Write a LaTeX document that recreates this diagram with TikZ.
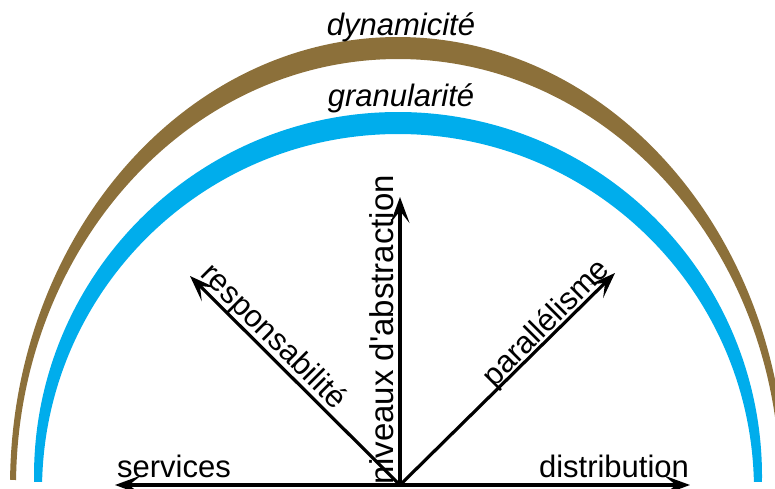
\documentclass[tikz,border=0pt]{standalone}
\usepackage{fontspec}
\setmainfont{Liberation Sans}
\usetikzlibrary{arrows.meta}
\definecolor{bandbrown}{RGB}{140,112,58}
\definecolor{bandblue}{RGB}{0,173,236}
\begin{document}
\begin{tikzpicture}[x=1pt,y=1pt,
  vec/.style={line width=3.2pt,-{Stealth[length=26pt,width=19pt,inset=12pt]}},
  lbl/.style={font=\fontsize{31}{37}\selectfont, inner sep=0pt, anchor=base},
  ilbl/.style={lbl, font=\fontsize{31}{37}\selectfont\itshape}]
\useasboundingbox (0,0) rectangle (775,488);
\clip (0,0) rectangle (775,488);
% brown band
\fill[bandbrown] ([shift={(179.2:388 and 449)}]398,2)
  arc[start angle=179.2,end angle=0.8,x radius=388,y radius=449]
  -- ([shift={(0.8:382 and 427)}]398,2)
  arc[start angle=0.8,end angle=179.2,x radius=382,y radius=427] -- cycle;
% blue band
\fill[bandblue] ([shift={(180.94:364)}]398,12)
  arc[start angle=180.94,end angle=-0.94,radius=364]
  -- ([shift={(1.29:356)}]398,-2)
  arc[start angle=1.29,end angle=178.71,radius=356] -- cycle;
% arrows
\coordinate (O) at (400,3);
\coordinate (L) at (115,3);
\coordinate (R) at (690,3);
\coordinate (U) at (400,291);
\coordinate (UL) at (190,212);
\coordinate (UR) at (615,215);
\draw[vec] (O) -- (L);
\draw[vec] (O) -- (R);
\draw[vec] (O) -- (U);
\draw[vec] (O) -- (UL);
\draw[vec] (O) -- (UR);
% labels
\node[ilbl] (dyn) at (401,452) {dynamicité};
\node[ilbl] (gran) at (401,381) {granularité};
\node[lbl] (serv) at (174,11) {services};
\node[lbl] (dist) at (614,11) {distribution};
\node[lbl,rotate=90,font=\fontsize{33}{39}\selectfont] (niv) at (393,158.5) {niveaux d\textquotesingle abstraction};
\node[lbl,rotate=-45] (resp) at (266.7,144.8) {responsabilité};
\node[lbl,rotate=45] (para) at (552.6,158.4) {parallélisme};
\end{tikzpicture}
\end{document}
